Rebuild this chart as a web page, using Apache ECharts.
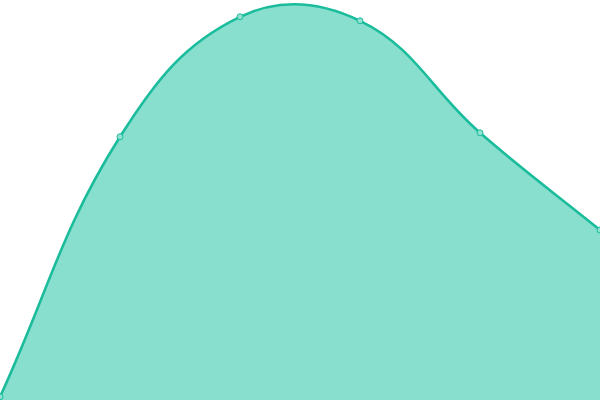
<!DOCTYPE html>
<html><head><meta charset="utf-8">
<script src="https://cdn.jsdelivr.net/npm/echarts@6/dist/echarts.min.js"></script>
<style>html,body{margin:0;padding:0;background:#fff}#c{width:600px;height:400px}</style>
</head><body><div id="c"></div>
<script>
const categories = ['A', 'B', 'C', 'D', 'E', 'F'];
const values = [0.8, 65.8, 95.8, 94.8, 66.8, 42.5];
const tension = 0.4;

function splinePath(pts, t) {
  const cps = pts.map((p, i) => {
    const prev = pts[i - 1] || p, next = pts[i + 1] || p;
    const d01 = Math.hypot(p[0] - prev[0], p[1] - prev[1]);
    const d12 = Math.hypot(next[0] - p[0], next[1] - p[1]);
    let s01 = d01 / (d01 + d12), s12 = d12 / (d01 + d12);
    if (!isFinite(s01)) s01 = 0; if (!isFinite(s12)) s12 = 0;
    const fa = t * s01, fb = t * s12;
    return {
      prev: [p[0] - fa * (next[0] - prev[0]), p[1] - fa * (next[1] - prev[1])],
      next: [p[0] + fb * (next[0] - prev[0]), p[1] + fb * (next[1] - prev[1])]
    };
  });
  let d = 'M' + pts[0][0] + ' ' + pts[0][1];
  for (let i = 1; i < pts.length; i++) {
    const a = cps[i - 1].next, b = cps[i].prev, p = pts[i];
    d += ' C' + a[0] + ' ' + a[1] + ' ' + b[0] + ' ' + b[1] + ' ' + p[0] + ' ' + p[1];
  }
  return d;
}

const chart = echarts.init(document.getElementById('c'), null, {renderer: 'canvas'});
chart.setOption({
  animation: false,
  grid: {left: 0, right: 0, top: 0, bottom: 0},
  xAxis: {type: 'category', data: categories, boundaryGap: false, show: false},
  yAxis: {type: 'value', min: 0, max: 100, show: false},
  series: [{
    type: 'custom',
    data: values,
    clip: false,
    z: 1,
    renderItem: function (params, api) {
      if (params.dataIndex !== 0) return null;
      const pts = values.map((v, i) => api.coord([i, v]));
      const line = splinePath(pts, tension);
      const base0 = api.coord([0, 0]);
      const baseN = api.coord([values.length - 1, 0]);
      const area = line + ' L' + baseN[0] + ' ' + baseN[1] + ' L' + base0[0] + ' ' + base0[1] + ' Z';
      return {
        type: 'group',
        children: [
          {type: 'path', shape: {pathData: area}, style: {fill: '#88dfce', stroke: null}},
          {type: 'path', shape: {pathData: line}, style: {fill: null, stroke: '#1abc9c', lineWidth: 2.6}}
        ]
      };
    }
  }, {
    type: 'line',
    data: values,
    z: 2,
    symbol: 'circle',
    symbolSize: 6,
    lineStyle: {opacity: 0},
    itemStyle: {color: '#8fe0d0', borderColor: '#1abc9c', borderWidth: 1}
  }]
});
</script></body></html>
